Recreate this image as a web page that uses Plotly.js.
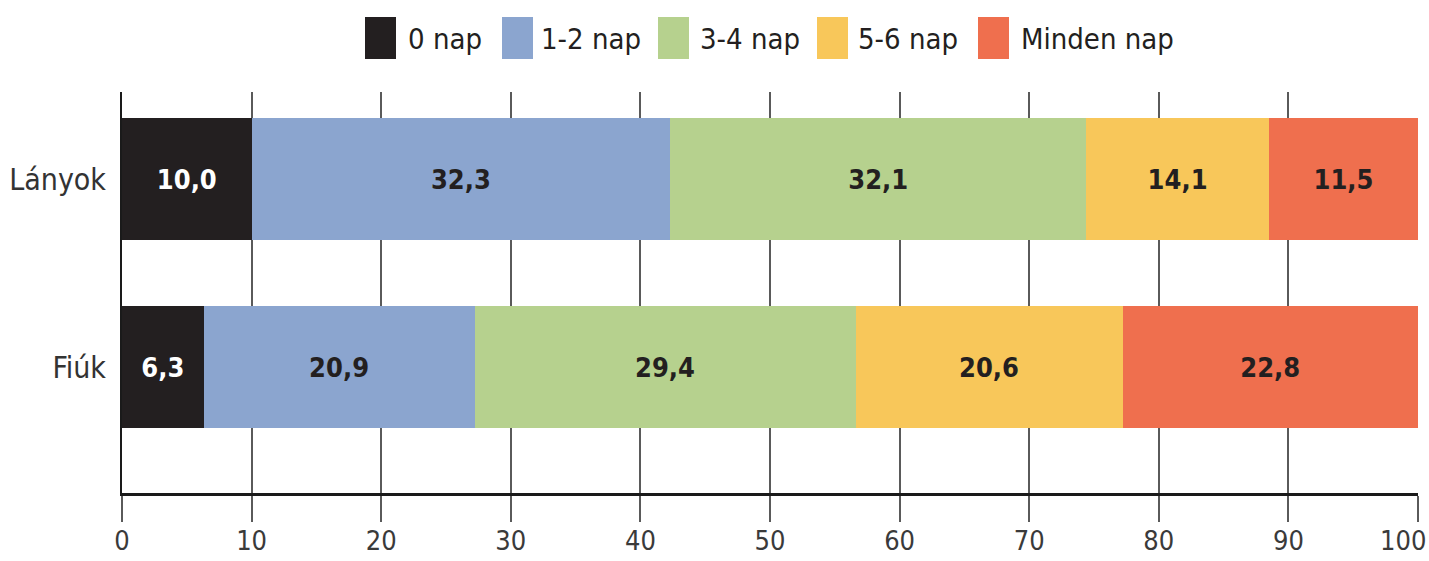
<!DOCTYPE html>
<html>
<head>
<meta charset="utf-8">
<script src="https://cdn.plot.ly/plotly-3.0.1.min.js"></script>
<style>
  html, body { margin: 0; padding: 0; background: #ffffff; }
  #chart { width: 1429px; height: 561px; }
</style>
</head>
<body>
<div id="chart"></div>
<script>
// Groups shown on the vertical axis
const groups = ['Lányok', 'Fiúk'];

// Share of respondents (%) per answer, one array per answer category
const series = ['0 nap', '1-2 nap', '3-4 nap', '5-6 nap', 'Minden nap'];
const napNulla   = [10.0, 6.3];
const nap12      = [32.3, 20.9];
const nap34      = [32.1, 29.4];
const nap56      = [14.1, 20.6];
const mindenNap  = [11.5, 22.8];
const values = [napNulla, nap12, nap34, nap56, mindenNap];

// Axis ticks
const xTicks = [0, 10, 20, 30, 40, 50, 60, 70, 80, 90, 100];

const colors = ['#231f20', '#8ba5cf', '#b6d18e', '#f8c75a', '#ef6f4e'];
const labelColors = ['#ffffff', '#231f20', '#231f20', '#231f20', '#231f20'];

const FONT = '"DejaVu Sans Condensed", "Liberation Sans Narrow", "Arial Narrow", sans-serif';
const TICK_FONT = { family: FONT, size: 27, color: '#3a3a3a' };

// Plot box in pixels
const W = 1429, H = 561;
const M = { l: 122, r: 11, t: 92, b: 68 };
const plotW = W - M.l - M.r, plotH = H - M.t - M.b;
const px2x = p => (p - M.l) / plotW;
const px2y = p => (H - M.b - p) / plotH;

const traces = series.map((name, i) => ({
  type: 'bar',
  orientation: 'h',
  name: name,
  y: groups,
  x: values[i],
  marker: { color: colors[i], line: { width: 0 } },
  texttemplate: '<b>%{x:.1f}</b>',
  textposition: 'inside',
  insidetextanchor: 'middle',
  textangle: 0,
  constraintext: 'none',
  textfont: { family: FONT, size: 27, color: labelColors[i] },
  hoverinfo: 'skip',
  showlegend: false
}));

// Legend drawn as tall swatches with labels across the top
const swatchLeft = [365, 502, 658, 817, 978];
const labelLeft = [408, 541, 700, 858, 1021];
const shapes = [];
const annotations = [];
series.forEach((name, i) => {
  shapes.push({
    type: 'rect', xref: 'paper', yref: 'paper',
    x0: px2x(swatchLeft[i]), x1: px2x(swatchLeft[i] + 31),
    y0: px2y(59), y1: px2y(17),
    fillcolor: colors[i], line: { width: 0 }
  });
  annotations.push({
    xref: 'paper', yref: 'paper',
    x: px2x(labelLeft[i]), y: px2y(39),
    xanchor: 'left', yanchor: 'middle',
    xshift: -2,
    text: name, showarrow: false,
    font: { family: FONT, size: 29, color: '#231f20' }
  });
});

// The last tick label sits at the right edge of the page, so it is
// right-aligned against the edge instead of centred on its tick
const lastTick = xTicks[xTicks.length - 1];
annotations.push({
  xref: 'paper', yref: 'paper',
  x: px2x(W - 1), y: px2y(540),
  xanchor: 'right', yanchor: 'middle',
  text: String(lastTick), showarrow: false,
  font: TICK_FONT
});

const layout = {
  width: W, height: H,
  margin: M,
  paper_bgcolor: '#ffffff',
  plot_bgcolor: '#ffffff',
  barmode: 'stack',
  bargap: 0.351,
  separators: ', ',
  showlegend: false,
  font: { family: FONT, size: 29, color: '#333333' },
  xaxis: {
    range: [0, 100],
    tickvals: xTicks,
    ticktext: xTicks.map(v => (v === lastTick ? '' : String(v))),
    showgrid: true, gridcolor: '#5a5a5a', gridwidth: 2,
    zeroline: false,
    showline: true, linecolor: '#1a1a1a', linewidth: 3,
    ticks: 'outside', ticklen: 26, tickwidth: 2, tickcolor: '#5a5a5a',
    ticklabelstandoff: -4,
    tickfont: TICK_FONT,
    fixedrange: true
  },
  yaxis: {
    type: 'category',
    categoryorder: 'array',
    categoryarray: ['Fiúk', 'Lányok'],
    range: [-0.670, 1.463],
    showgrid: false, zeroline: false,
    showline: true, linecolor: '#1a1a1a', linewidth: 2,
    ticks: '',
    ticklabelstandoff: 8,
    tickfont: { family: FONT, size: 30, color: '#333333' },
    fixedrange: true
  },
  shapes: shapes,
  annotations: annotations
};

Plotly.newPlot('chart', traces, layout, { staticPlot: true, displayModeBar: false });
</script>
</body>
</html>
